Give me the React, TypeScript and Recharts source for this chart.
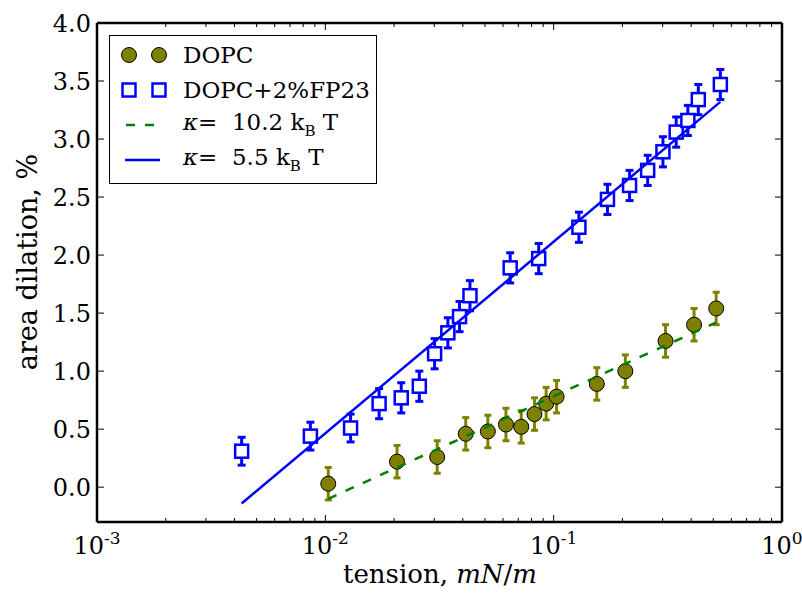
import React from 'react';
import { ScatterChart, Scatter, XAxis, YAxis, ErrorBar } from 'recharts';

// DOPC
const dopcTension = [0.0103, 0.0206, 0.0309, 0.0412, 0.0515, 0.0618, 0.0721, 0.0824, 0.0927, 0.103, 0.1545, 0.206, 0.309, 0.412, 0.515];
const dopcDilation = [0.03, 0.22, 0.26, 0.46, 0.48, 0.54, 0.52, 0.63, 0.72, 0.78, 0.89, 1.0, 1.26, 1.4, 1.54];
const dopcError = [0.14, 0.14, 0.14, 0.14, 0.14, 0.14, 0.14, 0.14, 0.14, 0.14, 0.14, 0.14, 0.14, 0.14, 0.14];

// DOPC+2%FP23
const fpTension = [0.0043, 0.0086, 0.0129, 0.0172, 0.0215, 0.0258, 0.0301, 0.0344, 0.0387, 0.043, 0.0645, 0.086, 0.129, 0.172, 0.215, 0.258, 0.301, 0.344, 0.387, 0.43, 0.537];
const fpDilation = [0.31, 0.44, 0.51, 0.72, 0.77, 0.87, 1.15, 1.33, 1.47, 1.65, 1.89, 1.97, 2.24, 2.48, 2.6, 2.73, 2.89, 3.06, 3.16, 3.34, 3.47];
const fpError = [0.12, 0.12, 0.12, 0.13, 0.13, 0.13, 0.13, 0.13, 0.13, 0.13, 0.13, 0.13, 0.13, 0.13, 0.13, 0.13, 0.13, 0.13, 0.13, 0.13, 0.13];

// fits
const fitSoftTension = [0.0103, 0.515];
const fitSoftDilation = [-0.1, 1.42];
const fitStiffTension = [0.0043, 0.537];
const fitStiffDilation = [-0.14, 3.32];

const xMajor = [0.001, 0.01, 0.1, 1];
const xMinorFactors = [2, 3, 4, 5, 6, 7, 8, 9];
const yTicks = [0, 0.5, 1, 1.5, 2, 2.5, 3, 3.5, 4];
const xTickLabels = ['-3', '-2', '-1', '0'];

const xTicks: number[] = [];
xMajor.forEach((m, i) => {
  xTicks.push(m);
  if (i < xMajor.length - 1) xMinorFactors.forEach(f => xTicks.push(+(m * f).toPrecision(3)));
});

const toPoints = (xs: number[], ys: number[], es?: number[]) =>
  xs.map((x, i) => ({ x, y: ys[i], e: es ? es[i] : 0 }));

const dopcData = toPoints(dopcTension, dopcDilation, dopcError);
const fpData = toPoints(fpTension, fpDilation, fpError);
const softFit = toPoints(fitSoftTension, fitSoftDilation);
const stiffFit = toPoints(fitStiffTension, fitStiffDilation);

const FONT = '"DejaVu Serif", serif';
const OLIVE = '#808000';
const BLUE = '#0000ff';
const GREEN = '#008000';

const isMajor = (v: number) => Math.abs(Math.log10(v) - Math.round(Math.log10(v))) < 1e-6;

const BottomTick = (props: any) => {
  const { x, y, payload } = props;
  const v = payload.value;
  const major = isMajor(v);
  const idx = xMajor.findIndex(m => Math.abs(m - v) < 1e-9);
  return (
    <g>
      <line x1={x} x2={x} y1={y} y2={y - (major ? 7 : 4)} stroke="#000" strokeWidth={1} />
      {major && (
        <text x={x} y={y + 32} textAnchor="middle" fontFamily={FONT} fontSize={24} fill="#000">
          10
          <tspan fontSize={17} dy={-10}>{xTickLabels[idx]}</tspan>
        </text>
      )}
    </g>
  );
};

const TopTick = (props: any) => {
  const { x, y, payload } = props;
  const major = isMajor(payload.value);
  return <line x1={x} x2={x} y1={y} y2={y + (major ? 7 : 4)} stroke="#000" strokeWidth={1} />;
};

const LeftTick = (props: any) => {
  const { x, y, payload } = props;
  return (
    <g>
      <line x1={x} x2={x + 7} y1={y} y2={y} stroke="#000" strokeWidth={1} />
      <text x={x - 6} y={y} dy="0.36em" textAnchor="end" fontFamily={FONT} fontSize={24} fill="#000">
        {payload.value.toFixed(1)}
      </text>
    </g>
  );
};

const RightTick = (props: any) => {
  const { x, y } = props;
  return <line x1={x} x2={x - 7} y1={y} y2={y} stroke="#000" strokeWidth={1} />;
};

const Dot = (props: any) => (
  <circle cx={props.cx} cy={props.cy} r={7.5} fill={OLIVE} stroke="#000" strokeWidth={1} />
);

const Square = (props: any) => (
  <rect x={props.cx - 6.5} y={props.cy - 6.5} width={13} height={13} fill="#fff" stroke={BLUE} strokeWidth={2.5} />
);

const NoShape = () => <g />;

const frame = { stroke: '#000', strokeWidth: 2.5 };

const LegendBox = () => {
  const row = { height: 35, display: 'flex', alignItems: 'center' } as React.CSSProperties;
  const sym = { width: 73, height: 35 };
  const label = { fontFamily: FONT, fontSize: 23, color: '#000', whiteSpace: 'nowrap' } as React.CSSProperties;
  return (
    <div
      style={{
        position: 'absolute',
        left: 109,
        top: 35,
        width: 266,
        height: 146,
        border: '1px solid #000',
        background: '#fff',
        paddingTop: 1,
        boxSizing: 'content-box',
      }}
    >
      <div style={row}>
        <svg {...sym}>
          <circle cx={19} cy={18} r={7.5} fill={OLIVE} stroke="#000" />
          <circle cx={49} cy={18} r={7.5} fill={OLIVE} stroke="#000" />
        </svg>
        <span style={label}>DOPC</span>
      </div>
      <div style={row}>
        <svg {...sym}>
          <rect x={12.5} y={11.5} width={13} height={13} fill="#fff" stroke={BLUE} strokeWidth={2.5} />
          <rect x={42.5} y={11.5} width={13} height={13} fill="#fff" stroke={BLUE} strokeWidth={2.5} />
        </svg>
        <span style={label}>DOPC+2%FP23</span>
      </div>
      <div style={row}>
        <svg {...sym}>
          <line x1={16} x2={44} y1={18} y2={18} stroke={GREEN} strokeWidth={2.5} strokeDasharray="9 10" />
        </svg>
        <span style={label}>
          <i>κ</i>= &nbsp;10.2 k<sub style={{ fontSize: 15 }}>B</sub> T
        </span>
      </div>
      <div style={row}>
        <svg {...sym}>
          <line x1={15} x2={50} y1={18} y2={18} stroke={BLUE} strokeWidth={2.5} />
        </svg>
        <span style={label}>
          <i>κ</i>= &nbsp;5.5 k<sub style={{ fontSize: 15 }}>B</sub> T
        </span>
      </div>
    </div>
  );
};

export default function App() {
  return (
    <div style={{ position: 'absolute', left: 0, top: 0, width: 802, height: 598, background: '#fff' }}>
      <ScatterChart width={802} height={598} margin={{ top: 0, right: 0, bottom: 0, left: 0 }}>
        <XAxis
          xAxisId="b"
          type="number"
          dataKey="x"
          scale="log"
          domain={[0.001, 1]}
          allowDataOverflow
          ticks={xTicks}
          interval={0}
          height={76}
          tickSize={0}
          tickMargin={0}
          tickLine={false}
          tick={<BottomTick />}
          axisLine={frame}
        />
        <XAxis
          xAxisId="t"
          orientation="top"
          type="number"
          dataKey="x"
          scale="log"
          domain={[0.001, 1]}
          allowDataOverflow
          ticks={xTicks}
          interval={0}
          height={23}
          tickSize={0}
          tickMargin={0}
          tickLine={false}
          tick={<TopTick />}
          axisLine={frame}
        />
        <YAxis
          yAxisId="l"
          type="number"
          dataKey="y"
          domain={[-0.3, 4]}
          allowDataOverflow
          ticks={yTicks}
          interval={0}
          width={97}
          tickSize={0}
          tickMargin={0}
          tickLine={false}
          tick={<LeftTick />}
          axisLine={frame}
        />
        <YAxis
          yAxisId="r"
          orientation="right"
          type="number"
          dataKey="y"
          domain={[-0.3, 4]}
          allowDataOverflow
          ticks={yTicks}
          interval={0}
          width={20}
          tickSize={0}
          tickMargin={0}
          tickLine={false}
          tick={<RightTick />}
          axisLine={frame}
        />
        <Scatter data={dopcData} xAxisId="b" yAxisId="l" shape={<Dot />} isAnimationActive={false}>
          <ErrorBar dataKey="e" direction="y" width={3.5} strokeWidth={3} stroke={OLIVE} isAnimationActive={false} />
        </Scatter>
        <Scatter data={fpData} xAxisId="b" yAxisId="l" shape={<Square />} isAnimationActive={false}>
          <ErrorBar dataKey="e" direction="y" width={4} strokeWidth={3} stroke={BLUE} isAnimationActive={false} />
        </Scatter>
        <Scatter
          data={softFit}
          xAxisId="b"
          yAxisId="l"
          shape={<NoShape />}
          line={{ stroke: GREEN, strokeWidth: 2.5, strokeDasharray: '9 10' }}
          lineType="joint"
          isAnimationActive={false}
        />
        <Scatter
          data={stiffFit}
          xAxisId="b"
          yAxisId="l"
          shape={<NoShape />}
          line={{ stroke: BLUE, strokeWidth: 2.5 }}
          lineType="joint"
          isAnimationActive={false}
        />
      </ScatterChart>
      <div
        style={{
          position: 'absolute',
          left: 440,
          top: 574,
          transform: 'translate(-50%, -50%)',
          fontFamily: FONT,
          fontSize: 26,
          whiteSpace: 'nowrap',
        }}
      >
        tension, <i>mN</i>/<i>m</i>
      </div>
      <div
        style={{
          position: 'absolute',
          left: 27,
          top: 262,
          transform: 'translate(-50%, -50%) rotate(-90deg)',
          fontFamily: FONT,
          fontSize: 27,
          whiteSpace: 'nowrap',
        }}
      >
        area dilation, %
      </div>
      <LegendBox />
    </div>
  );
}
